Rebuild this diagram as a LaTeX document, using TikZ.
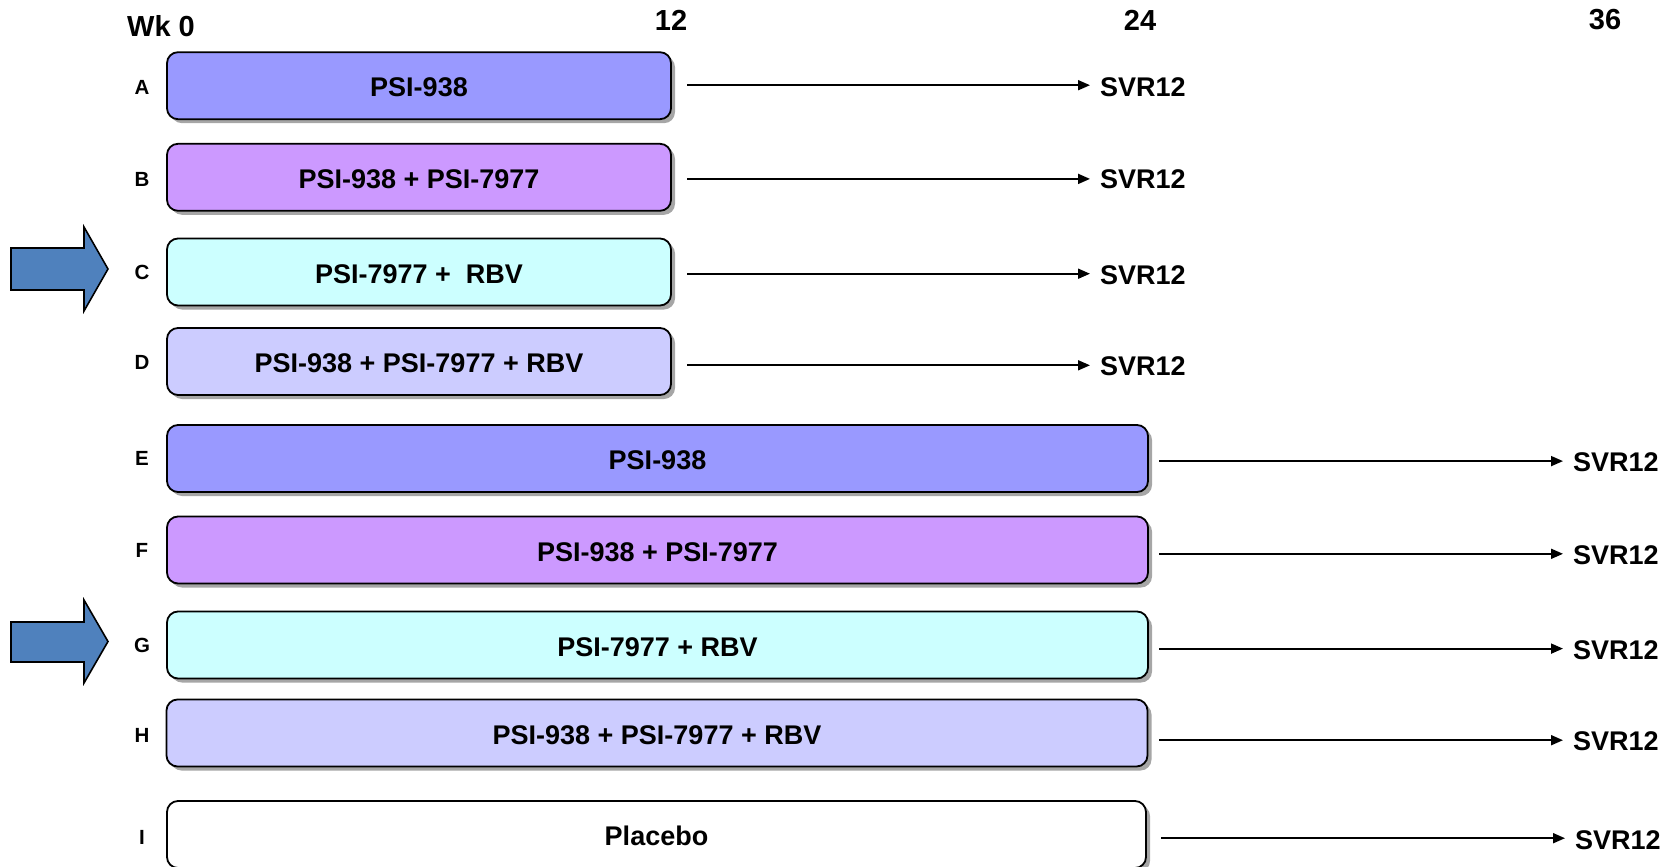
\documentclass[tikz,border=0pt]{standalone}
\usepackage{fontspec}
\setmainfont{Liberation Sans}
\usetikzlibrary{arrows.meta,shadows}
\definecolor{cA}{HTML}{9999FF}
\definecolor{cB}{HTML}{CC99FF}
\definecolor{cC}{HTML}{CCFFFF}
\definecolor{cD}{HTML}{CCCCFF}
\definecolor{cArrow}{HTML}{4F81BD}
\begin{document}
\begin{tikzpicture}[x=1pt,y=-1pt,
  box/.style={draw=black, line width=1.8pt, rounded corners=11pt, minimum height=67pt,
    inner sep=0pt, text height=22pt, text depth=0pt, font=\fontsize{27}{32}\selectfont\bfseries,
    drop shadow={shadow xshift=4pt, shadow yshift=-4pt, fill=black!35, opacity=1}},
  shortbox/.style={box, minimum width=504pt},
  longbox/.style={box, minimum width=981pt},
  rowlbl/.style={font=\fontsize{20.5}{24}\selectfont\bfseries, inner sep=0pt},
  hdr/.style={font=\fontsize{29}{34}\selectfont\bfseries, inner sep=0pt},
  svr/.style={font=\fontsize{27}{32}\selectfont\bfseries, inner sep=0pt, anchor=west},
  conn/.style={line width=1.8pt, -{Triangle[length=12pt,width=10pt]}},
  bigarrow/.style={draw=black, line width=1.6pt, fill=cArrow}]
\useasboundingbox (0,0) rectangle (1670,867);
\clip (0,0) rectangle (1670,867);
% header
\node[hdr] (wk0) at (161,26.5) {Wk 0};
\node[hdr] (w12) at (671,20) {12};
\node[hdr] (w24) at (1140,20) {24};
\node[hdr] (w36) at (1605,20) {36};
% boxes
\node[shortbox, fill=cA] (bA) at (419,85.7) {PSI-938};
\node[shortbox, fill=cB] (bB) at (419,177.3) {PSI-938 + PSI-7977};
\node[shortbox, fill=cC] (bC) at (419,272) {PSI-7977 +\ \ RBV};
\node[shortbox, fill=cD] (bD) at (419,361.5) {PSI-938 + PSI-7977 + RBV};
\node[longbox, fill=cA] (bE) at (657.5,458.5) {PSI-938};
\node[longbox, fill=cB] (bF) at (657.5,550) {PSI-938 + PSI-7977};
\node[longbox, fill=cC] (bG) at (657.5,645) {PSI-7977 + RBV};
\node[longbox, fill=cD] (bH) at (657,733) {PSI-938 + PSI-7977 + RBV};
\node[box, minimum width=979pt, fill=white] (bI) at (656.5,834.5) {Placebo};
% row letters
\node[rowlbl] (lA) at (142,87) {A};
\node[rowlbl] (lB) at (142,179) {B};
\node[rowlbl] (lC) at (142,272.6) {C};
\node[rowlbl] (lD) at (142,362) {D};
\node[rowlbl] (lE) at (142,458) {E};
\node[rowlbl] (lF) at (142,550.6) {F};
\node[rowlbl] (lG) at (142,645) {G};
\node[rowlbl] (lH) at (142,735) {H};
\node[rowlbl] (lI) at (142,837) {I};
% SVR12 labels
\node[svr] (sA) at (1100,87) {SVR12};
\node[svr] (sB) at (1100,179.5) {SVR12};
\node[svr] (sC) at (1100,275) {SVR12};
\node[svr] (sD) at (1100,366.5) {SVR12};
\node[svr] (sE) at (1573,462) {SVR12};
\node[svr] (sF) at (1573,555) {SVR12};
\node[svr] (sG) at (1573,650) {SVR12};
\node[svr] (sH) at (1573,741.5) {SVR12};
\node[svr] (sI) at (1575,840) {SVR12};
% arrow starts
\coordinate (aA) at (687,85.2);
\coordinate (aB) at (687,178.9);
\coordinate (aC) at (687,273.7);
\coordinate (aD) at (687,365.3);
\coordinate (aE) at (1159,461.1);
\coordinate (aF) at (1159,553.8);
\coordinate (aG) at (1159,648.6);
\coordinate (aH) at (1159,740.2);
\coordinate (aI) at (1161,838.2);
\foreach \r in {A,B,C,D,E,F,G,H,I}{
  \draw[conn] (a\r) -- ([xshift=-10pt]s\r.west |- a\r);
}
% big blue arrows
\draw[bigarrow] (11,248) -- (84,248) -- (84,227) -- (108,269) -- (84,311) -- (84,290) -- (11,290) -- cycle;
\draw[bigarrow] (11,622) -- (84,622) -- (84,600) -- (108,641.5) -- (84,683) -- (84,662) -- (11,662) -- cycle;
\end{tikzpicture}
\end{document}
